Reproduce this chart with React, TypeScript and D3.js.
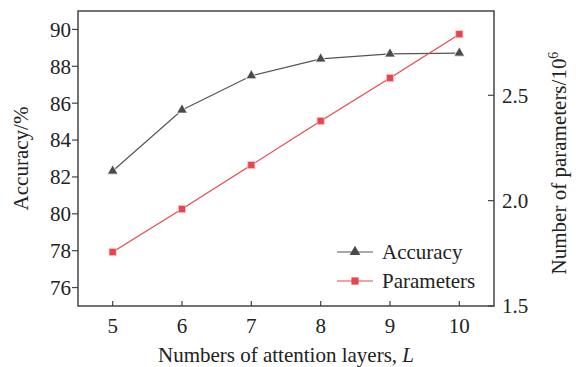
import React from 'react';
import * as d3 from 'd3';

const layers = [5, 6, 7, 8, 9, 10];
const accuracy = [82.32, 85.63, 87.49, 88.4, 88.67, 88.72];
const parameters = [1.756, 1.96, 2.169, 2.378, 2.582, 2.79];
const accTicks = [76, 78, 80, 82, 84, 86, 88, 90];
const paramTicks = [1.5, 2.0, 2.5];

const W = 582;
const H = 367;
const m = { left: 78, right: 494, top: 11, bottom: 306 };
const FONT = '"Liberation Serif", "Times New Roman", serif';
const FS = 21;
const AXIS = '#444';
const GRAY = '#4a4a4a';
const RED = '#e8464e';
const TXT = '#222';

const App = () => {
  const x = d3.scaleLinear().domain([4.5, 10.5]).range([m.left, m.right]);
  const yAcc = d3.scaleLinear().domain([75, 91]).range([m.bottom, m.top]);
  const yPar = d3.scaleLinear().domain([1.5, 2.9]).range([m.bottom, m.top]);

  const accLine = d3.line<number>()
    .x((_, i) => x(layers[i]))
    .y(d => yAcc(d));
  const parLine = d3.line<number>()
    .x((_, i) => x(layers[i]))
    .y(d => yPar(d));

  const tri = d3.symbol().type(d3.symbolTriangle).size(50)();
  const sq = d3.symbol().type(d3.symbolSquare).size(52)();

  return (
    <svg width={W} height={H} style={{ position: 'absolute', left: 0, top: 0 }} fontFamily={FONT}>
      <rect width={W} height={H} fill="#fff" />

      {/* frame */}
      <path
        d={`M${m.left},${m.top}H${m.right}V${m.bottom}H${m.left}Z`}
        fill="none" stroke={AXIS} strokeWidth={1.5}
      />

      {/* left axis */}
      {accTicks.map(t => (
        <g key={t} transform={`translate(${m.left},${yAcc(t)})`}>
          <line x1={-6} x2={0} stroke={AXIS} strokeWidth={1.2} />
          <text x={-7} dy="0.35em" textAnchor="end" fontSize={FS} fill={TXT}>{t}</text>
        </g>
      ))}

      {/* bottom axis */}
      {layers.map(t => (
        <g key={t} transform={`translate(${x(t)},${m.bottom})`}>
          <line y1={0} y2={-5} stroke={AXIS} strokeWidth={1.2} />
          <text y={27} textAnchor="middle" fontSize={FS} fill={TXT}>{t}</text>
        </g>
      ))}

      {/* right axis */}
      {paramTicks.map(t => (
        <g key={t} transform={`translate(${m.right},${yPar(t)})`}>
          <line x1={-6} x2={0} stroke={AXIS} strokeWidth={1.2} />
          <text x={8} dy="0.35em" fontSize={FS} fill={TXT}>{t.toFixed(1)}</text>
        </g>
      ))}

      {/* titles */}
      <text x={(m.left + m.right) / 2} y={362} textAnchor="middle" fontSize={FS} fill={TXT}>
        Numbers of attention layers, <tspan fontStyle="italic">L</tspan>
      </text>
      <text transform={`translate(28,${(m.top + m.bottom) / 2}) rotate(-90)`} textAnchor="middle" fontSize={FS} fill={TXT}>
        Accuracy/%
      </text>
      <text transform={`translate(566,163) rotate(-90)`} textAnchor="middle" fontSize={FS} fill={TXT}>
        Number of parameters/10<tspan dy={-8} fontSize={14}>6</tspan>
      </text>

      {/* series */}
      <path d={accLine(accuracy) ?? ''} fill="none" stroke="#555" strokeWidth={1.2} />
      <path d={parLine(parameters) ?? ''} fill="none" stroke={RED} strokeWidth={1.2} />
      {accuracy.map((d, i) => (
        <path key={i} d={tri ?? ''} transform={`translate(${x(layers[i])},${yAcc(d)})`} fill={GRAY} stroke="#fff" strokeWidth={0.8} />
      ))}
      {parameters.map((d, i) => (
        <path key={i} d={sq ?? ''} transform={`translate(${x(layers[i])},${yPar(d)})`} fill={RED} stroke="#f6c8ca" strokeWidth={0.8} />
      ))}

      {/* legend */}
      <g transform="translate(337,252)">
        <line x1={0} x2={36} stroke="#555" strokeWidth={1.2} />
        <path d={tri ?? ''} transform="translate(18,0)" fill={GRAY} />
        <text x={45} dy="0.35em" fontSize={FS} fill={TXT}>Accuracy</text>
      </g>
      <g transform="translate(337,281)">
        <line x1={0} x2={36} stroke={RED} strokeWidth={1.2} />
        <path d={sq ?? ''} transform="translate(18,0)" fill={RED} />
        <text x={45} dy="0.35em" fontSize={FS} fill={TXT}>Parameters</text>
      </g>
    </svg>
  );
};

export default App;
